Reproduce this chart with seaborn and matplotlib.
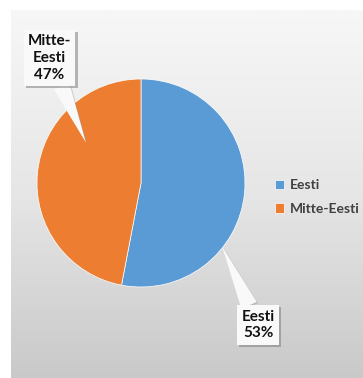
import numpy as np
import matplotlib
matplotlib.use("Agg")
import matplotlib.pyplot as plt
import matplotlib.patheffects as pe
from matplotlib.colors import LinearSegmentedColormap
import seaborn as sns

categories = ["Eesti", "Mitte-Eesti"]
values = [53, 47]
label_texts = ["Eesti\n53%", "Mitte-\nEesti\n47%"]
colors = ["#5B9BD5", "#ED7D31"]

sns.set_theme(style="white")
plt.rcParams['font.family'] = ['Lato', 'DejaVu Sans']

fig = plt.figure(figsize=(3.63, 3.78), dpi=100)
fig.patch.set_facecolor("white")

# gradient background panel
bg = fig.add_axes([11/363, 0, 1 - 11/363, 1 - 10/378])
grad = np.linspace(0, 1, 256).reshape(-1, 1)
cmap = LinearSegmentedColormap.from_list("g", ["#f7f7f7", "#e6e6e6", "#c9c9c9"])
bg.imshow(grad, aspect="auto", cmap=cmap, extent=[0, 1, 0, 1], origin="upper")
bg.set_axis_off()

ax = fig.add_axes([37/363, 91/378, 208/363, 208/378])
wedges, _ = ax.pie(values, colors=colors, startangle=90, counterclock=False,
                   wedgeprops=dict(edgecolor="white", linewidth=0.5))
ax.set_xlim(-1, 1)
ax.set_ylim(-1, 1)
ax.set_aspect("equal")
ax.set_axis_off()

# callout labels
tips = [(0.78, -0.61), (-0.53, 0.39)]
boxes = [(1.125, -1.365), (-0.88, 1.20)]
for txt, tip, box in zip(label_texts, tips, boxes):
    an = ax.annotate(txt, xy=tip, xytext=box, ha="center", va="center",
                     fontsize=11, fontweight="bold", color="#111111",
                     linespacing=1.25, annotation_clip=False,
                     bbox=dict(boxstyle="square,pad=0.28", fc="#f9f9f9", ec="none"),
                     arrowprops=dict(arrowstyle="wedge,tail_width=1.1,shrink_factor=0.5",
                                     fc="#f9f9f9", ec="none", lw=0,
                                     shrinkA=0, shrinkB=0))
    an.get_bbox_patch().set_path_effects([pe.withSimplePatchShadow(offset=(1.5, -1.5), shadow_rgbFace="#777777", alpha=0.5)])
    an.arrow_patch.set_path_effects([pe.withSimplePatchShadow(offset=(1, -1), shadow_rgbFace="#999999", alpha=0.4)])

leg = fig.legend(wedges, categories, loc="center left",
                 bbox_to_anchor=(275/363, 1 - 197/378), frameon=False,
                 handlelength=0.65, handleheight=0.65, handletextpad=0.45,
                 labelspacing=0.85, borderaxespad=0, borderpad=0,
                 prop=dict(family=['Lato', 'DejaVu Sans'], weight="bold", size=10))
for t in leg.get_texts():
    t.set_color("#404040")

fig.savefig("out.png", dpi=100)
